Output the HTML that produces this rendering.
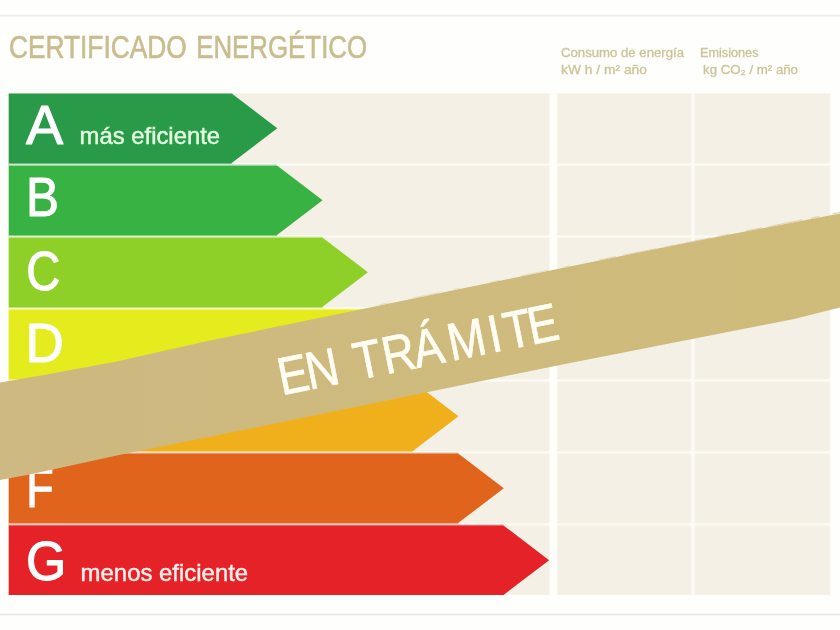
<!DOCTYPE html>
<html lang="es">
<head>
<meta charset="utf-8">
<title>Certificado energético</title>
<style>
html,body{margin:0;padding:0;background:#fefefc;}
body{width:840px;height:630px;overflow:hidden;font-family:"Liberation Sans",sans-serif;}
svg{display:block;}
text{font-family:"Liberation Sans",sans-serif;}
</style>
</head>
<body>
<svg width="840" height="630" viewBox="0 0 840 630">
<defs>
<linearGradient id="band" x1="0" y1="0" x2="1" y2="0">
<stop offset="0" stop-color="#cdb981"/>
<stop offset="1" stop-color="#cfbc7a"/>
</linearGradient>
<filter id="soft" filterUnits="userSpaceOnUse" x="-20" y="-20" width="880" height="670" color-interpolation-filters="sRGB">
<feGaussianBlur stdDeviation="0.62"/>
</filter>
</defs>
<rect x="-20" y="-20" width="880" height="670" fill="#fefefc"/>
<g filter="url(#soft)">
<rect x="-20" y="-20" width="880" height="670" fill="#fefefc"/>
<rect x="-20" y="14.8" width="880" height="1.8" fill="#edeee9"/>
<rect x="-20" y="613.6" width="880" height="1.8" fill="#e9eae5"/>
<text y="57.7" font-size="32" fill="#c9bc8e" stroke="#c9bc8e" stroke-width="0.6"><tspan x="8.9" textLength="177.8" lengthAdjust="spacingAndGlyphs">CERTIFICADO</tspan> <tspan x="196.2" textLength="170.9" lengthAdjust="spacingAndGlyphs">ENERGÉTICO</tspan></text>
<g font-size="12.8" fill="#cbc498" stroke="#cbc498" stroke-width="0.3">
<text x="561" y="56.6" textLength="123" lengthAdjust="spacingAndGlyphs">Consumo de energía</text>
<text x="561" y="74" textLength="86" lengthAdjust="spacingAndGlyphs">kW h / m² año</text>
<text x="700" y="56.6" textLength="58.5" lengthAdjust="spacingAndGlyphs">Emisiones</text>
<text x="703" y="74" textLength="95" lengthAdjust="spacingAndGlyphs">kg CO₂ / m² año</text>
</g>
<rect x="8.7" y="93.4" width="821.5" height="501.6" fill="#f5f0e5"/>
<g fill="#fcfaf4">
<rect x="8.7" y="163.40" width="821.5" height="2.4"/>
<rect x="8.7" y="235.35" width="821.5" height="2.4"/>
<rect x="8.7" y="307.30" width="821.5" height="2.4"/>
<rect x="8.7" y="379.25" width="821.5" height="2.4"/>
<rect x="8.7" y="451.20" width="821.5" height="2.4"/>
<rect x="8.7" y="523.15" width="821.5" height="2.4"/>
<rect x="691.2" y="93.4" width="3.4" height="501.6"/>
</g>
<rect x="549.5" y="93.4" width="7.8" height="501.6" fill="#fefefb"/>
<polygon fill="#289a48" points="8.7,93.40 231.7,93.40 231.7,93.40 277.3,128.20 231.7,163.00 231.7,164.20 8.7,164.20"/>
<polygon fill="#37b243" points="8.7,164.20 277.0,164.20 277.0,165.40 322.6,200.20 277.0,235.00 277.0,236.20 8.7,236.20"/>
<polygon fill="#8ecf28" points="8.7,236.20 322.3,236.20 322.3,237.40 367.9,272.20 322.3,307.00 322.3,308.20 8.7,308.20"/>
<polygon fill="#e4ec1e" points="8.7,308.20 367.6,308.20 367.6,309.40 413.2,344.20 367.6,379.00 367.6,380.20 8.7,380.20"/>
<polygon fill="#f0b01b" points="8.7,380.20 412.9,380.20 412.9,381.40 458.5,416.20 412.9,451.00 412.9,452.20 8.7,452.20"/>
<polygon fill="#e0641c" points="8.7,452.20 458.2,452.20 458.2,453.40 503.8,488.20 458.2,523.00 458.2,524.20 8.7,524.20"/>
<polygon fill="#e52228" points="8.7,524.20 503.5,524.20 503.5,525.40 549.1,560.20 503.5,595.00 503.5,595.00 8.7,595.00"/>
<g fill="#ffffff" fill-opacity="0.68">
<rect x="8.7" y="163.50" width="268.6" height="2.20"/>
<rect x="8.7" y="235.45" width="313.9" height="2.20"/>
<rect x="8.7" y="307.40" width="359.2" height="2.20"/>
<rect x="8.7" y="379.35" width="404.5" height="2.20"/>
<rect x="8.7" y="451.30" width="449.8" height="2.20"/>
<rect x="8.7" y="523.25" width="495.1" height="2.20"/>
</g>
<g fill="#ffffff" font-size="55.5" stroke="#ffffff" stroke-width="1.1" stroke-linejoin="round">
<text x="26.1" y="143.6" textLength="37.2" lengthAdjust="spacingAndGlyphs">A</text>
<text x="26.0" y="216.4" textLength="32.9" lengthAdjust="spacingAndGlyphs">B</text>
<text x="26.2" y="290.0" textLength="34.1" lengthAdjust="spacingAndGlyphs">C</text>
<text x="25.6" y="361.5" textLength="38.4" lengthAdjust="spacingAndGlyphs">D</text>
<text x="26.0" y="434.5" textLength="32.9" lengthAdjust="spacingAndGlyphs">E</text>
<text x="26.3" y="507.2" textLength="27.4" lengthAdjust="spacingAndGlyphs">F</text>
<text x="26.0" y="580.1" textLength="40.3" lengthAdjust="spacingAndGlyphs">G</text>
</g>
<g font-size="24.5" stroke-width="0.45">
<text x="79.6" y="143.6" fill="#e6ffe2" stroke="#e6ffe2" textLength="140.5" lengthAdjust="spacingAndGlyphs">más eficiente</text>
<text x="80.6" y="580.6" fill="#fff0ec" stroke="#fff0ec" textLength="167.6" lengthAdjust="spacingAndGlyphs">menos eficiente</text>
</g>
<polygon fill="url(#band)" points="-20,386.3 0,382.5 38,376 114,362 210,340.5 560,268.5 680,244 840,213.5 860,209.7 860,302.5 840,307.5 794,319 560,365 280,422.5 160,446.7 126,453.5 32,474 0,480 -20,483.8"/>
<path d="M600,259.7 L840,212.4" fill="none" stroke="#ddd0a6" stroke-opacity="0.8" stroke-width="1.1" stroke-dasharray="16 7 34 9 9 13 25 6 12 18"/>
<path d="M380,304.7 L600,259.7" fill="none" stroke="#ddd0a6" stroke-opacity="0.6" stroke-width="1" stroke-dasharray="10 22 28 15 7 30"/>
<text transform="translate(282.1,395.3) rotate(-11.45) scale(0.86,1)" x="-0.4 32.4 72.1 89.4 123.2 159.7 200.9 249.0 267.3 296.0" y="0" font-size="53" fill="#fffdf4" stroke="#fffdf4" stroke-width="0.7">EN TRÁMITE</text>
</g>
</svg>
</body>
</html>
